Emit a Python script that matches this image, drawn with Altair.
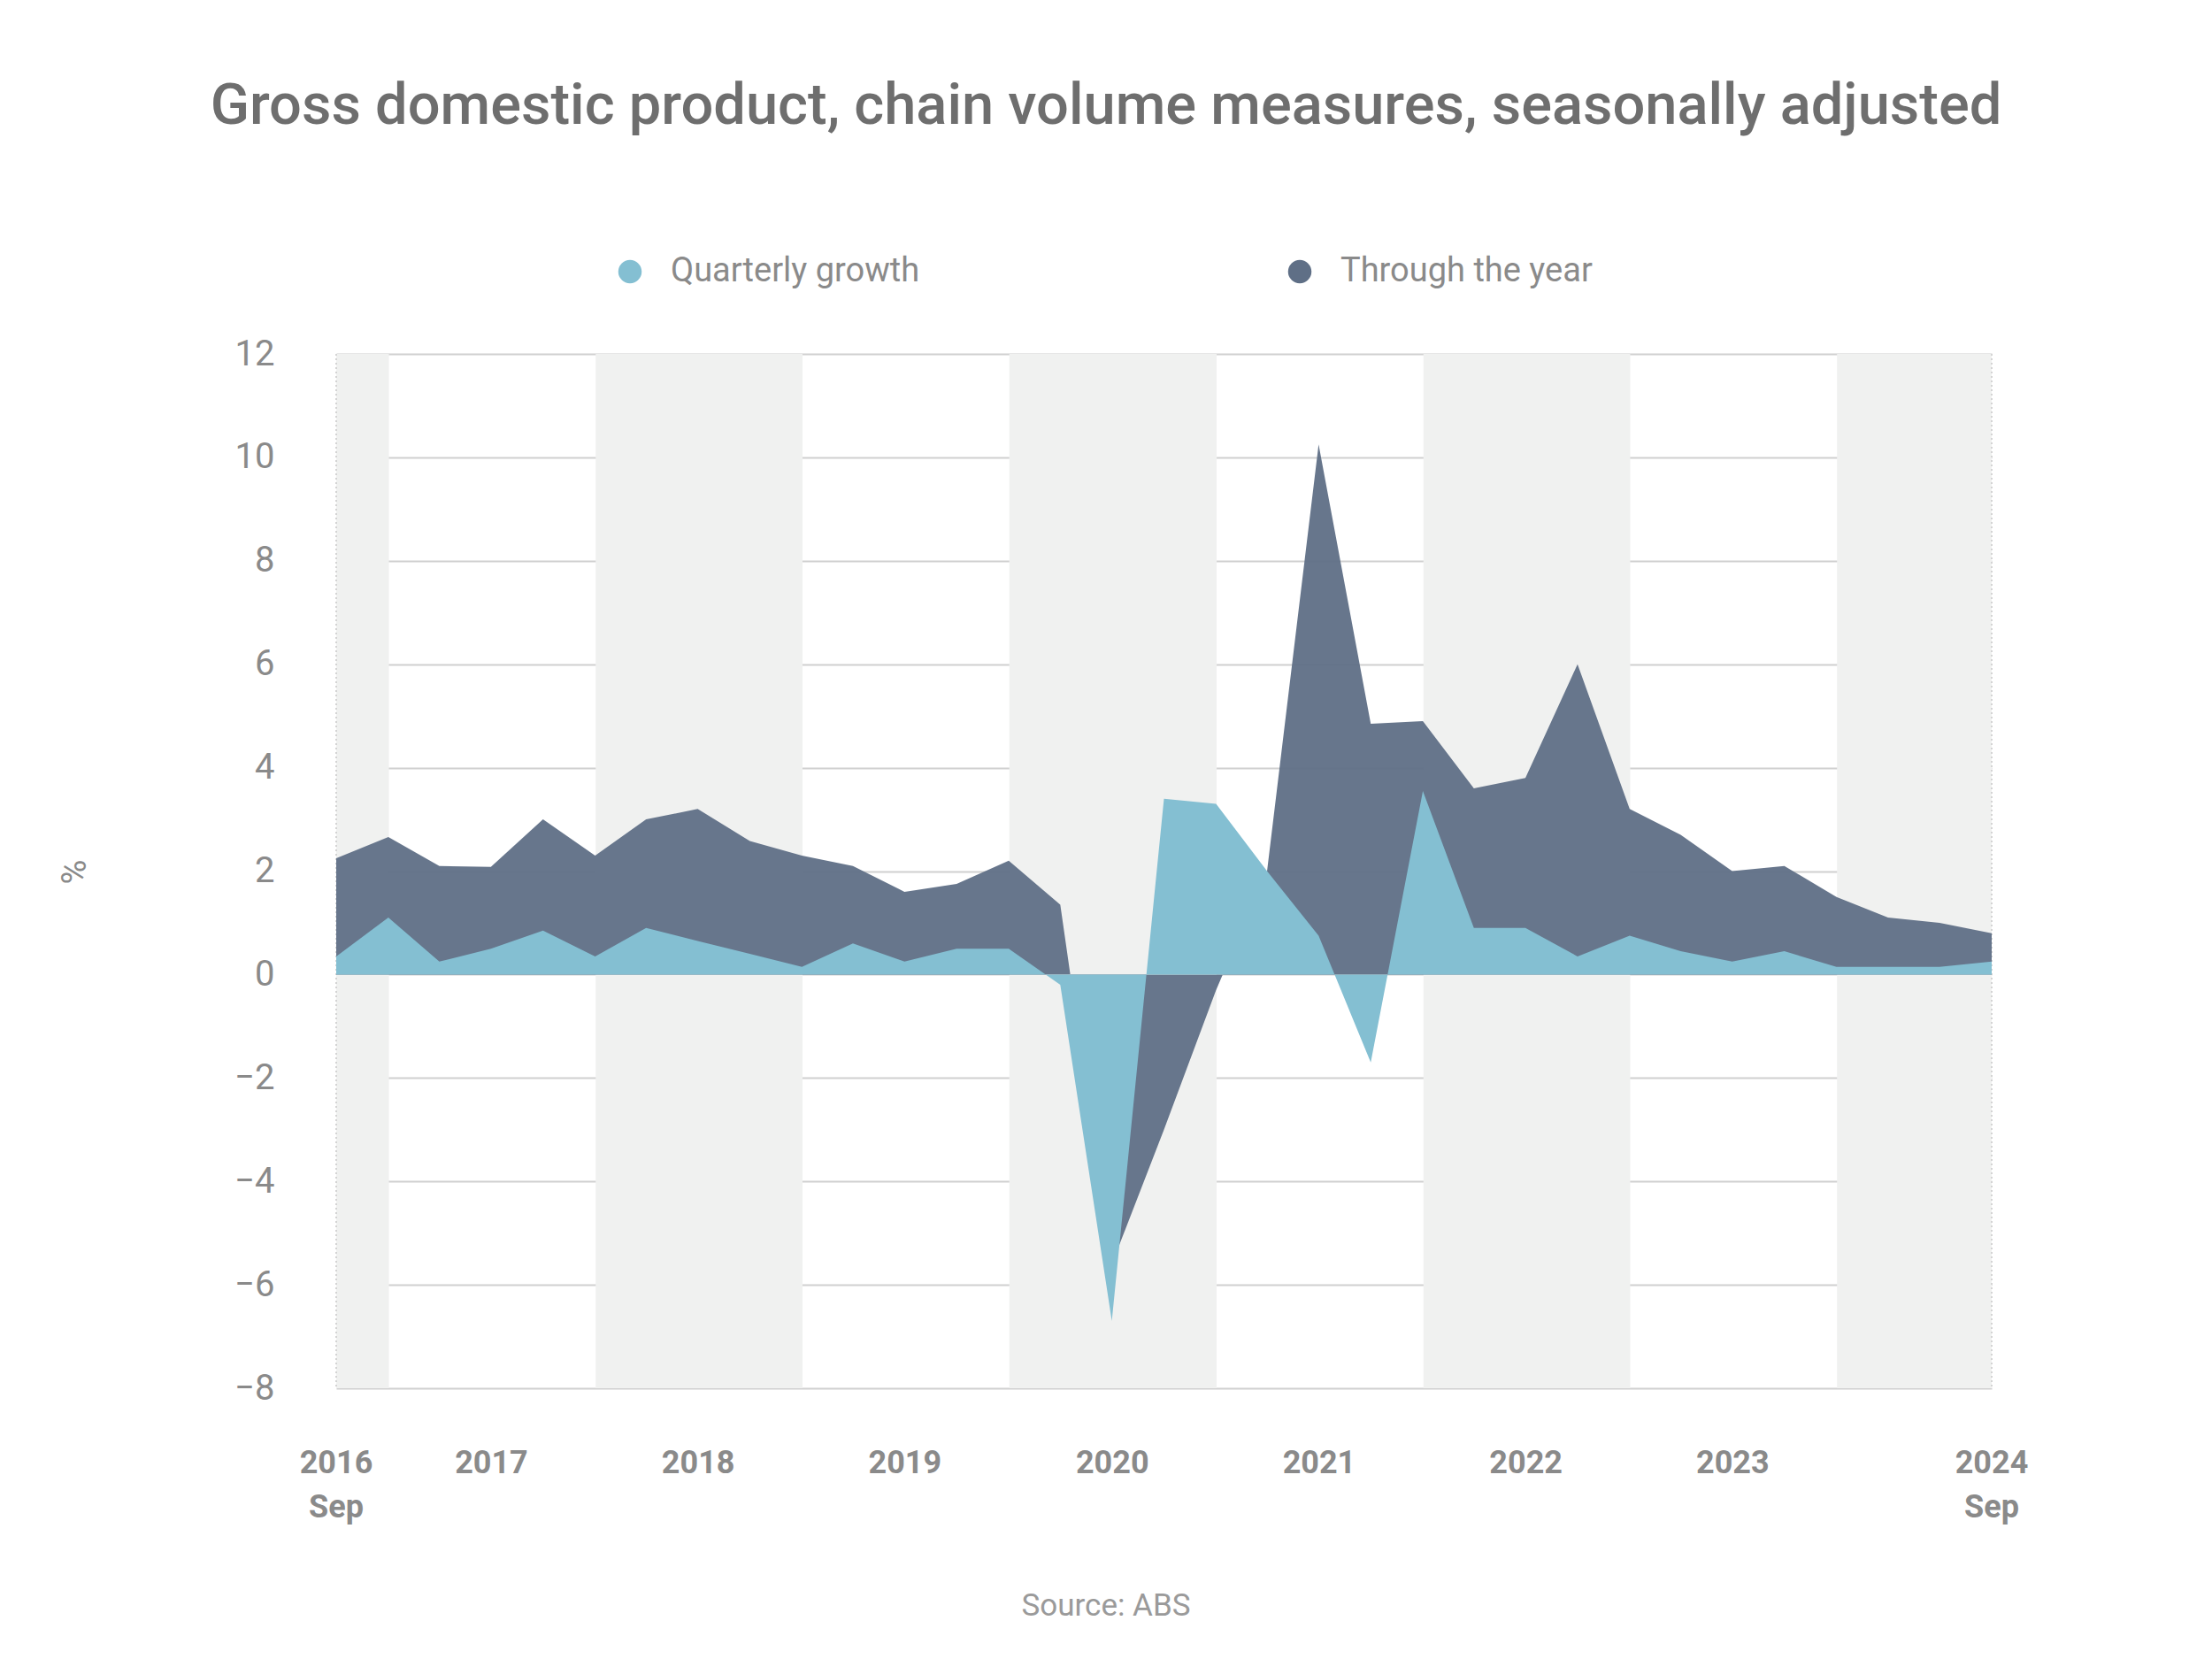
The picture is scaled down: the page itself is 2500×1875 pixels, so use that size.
import altair as alt
import pandas as pd

# Trimestres Sep 2016 .. Sep 2024 (fin de trimestre)
QUARTERS = pd.date_range("2016-09-30", "2024-09-30", freq="QE")

QUARTERLY = [0.35, 1.1, 0.25, 0.5, 0.85, 0.35, 0.9, 0.65, 0.4, 0.15, 0.6, 0.25,
             0.5, 0.5, -0.2, -6.7, 3.4, 3.3, 2.0, 0.75, -1.7, 3.55, 0.9, 0.9,
             0.35, 0.75, 0.45, 0.25, 0.45, 0.15, 0.15, 0.15, 0.25]
THROUGH_YEAR = [2.25, 2.66, 2.1, 2.08, 3.0, 2.3, 3.0, 3.2, 2.58, 2.3, 2.1, 1.6,
                1.75, 2.2, 1.35, -5.6, -3.0, -0.3, 2.0, 10.25, 4.85, 4.9, 3.6, 3.8,
                6.0, 3.2, 2.7, 2.0, 2.1, 1.5, 1.1, 1.0, 0.8]

BAND_START = ["2016-09-30", "2018-01-01", "2020-01-01", "2022-01-01", "2024-01-01"]
BAND_END = ["2017-01-01", "2019-01-01", "2021-01-01", "2023-01-01", "2024-09-30"]

YEAR_LABEL_DATES = ["2016-09-30", "2017-07-01", "2018-07-01", "2019-07-01", "2020-07-01",
                    "2021-07-01", "2022-07-01", "2023-07-01", "2024-09-30"]
YEAR_LABELS = ["2016", "2017", "2018", "2019", "2020", "2021", "2022", "2023", "2024"]
SEP_DATES = ["2016-09-30", "2024-09-30"]

SERIES = ["Quarterly growth", "Through the year"]
COLORS = ["#84bfd2", "#5f6f86"]

W, H = 1871, 1169
FONT = "Roboto"
GREY = "#8a8a8a"

df = pd.DataFrame({"date": QUARTERS, "q": QUARTERLY, "ty": THROUGH_YEAR})
df["s_q"] = SERIES[0]
df["s_ty"] = SERIES[1]

xscale = alt.Scale(domain=[pd.Timestamp("2016-09-30").isoformat(),
                           pd.Timestamp("2024-09-30").isoformat()])
x = alt.X("date:T", axis=None, scale=xscale)
color_scale = alt.Scale(domain=SERIES, range=COLORS)

bands = alt.Chart(pd.DataFrame({"a": pd.to_datetime(BAND_START), "b": pd.to_datetime(BAND_END)})).mark_rect(
    color="#f0f1f0").encode(x=alt.X("a:T", axis=None, scale=xscale), x2="b:T")

edges = alt.Chart(pd.DataFrame({"date": pd.to_datetime(SEP_DATES)})).mark_rule(
    color="#d4d4d4", strokeDash=[2, 3], strokeWidth=2).encode(x=x)

y = alt.Y("ty:Q", title="%", scale=alt.Scale(domain=[-8, 12]),
          axis=alt.Axis(values=list(range(-8, 13, 2)), grid=True, gridColor="#d0d0d0",
                        gridWidth=2, domain=False, ticks=False, labelFontSize=40,
                        labelExpr="format(datum.value, 'd')",
                        labelColor=GREY, labelFont=FONT, labelPadding=70,
                        titleFont=FONT, titleFontSize=38, titleColor=GREY,
                        titleFontWeight="normal", titleX=-276, titleY=585))

dark = alt.Chart(df).mark_area(opacity=0.95).encode(
    x=x, y=y,
    color=alt.Color("s_ty:N", scale=color_scale, title=None,
                    legend=alt.Legend(orient="none", legendX=313, legendY=-112,
                                      direction="horizontal", symbolType="circle",
                                      symbolSize=700, symbolOpacity=1, labelFontSize=38,
                                      labelFont=FONT, labelColor=GREY, labelOffset=27,
                                      labelLimit=600, columnPadding=410)))
light = alt.Chart(df).mark_area().encode(
    x=x, y=alt.Y("q:Q"), color=alt.Color("s_q:N", scale=color_scale))

lab = pd.DataFrame({"date": pd.to_datetime(YEAR_LABEL_DATES), "t": YEAR_LABELS})
years = alt.Chart(lab).mark_text(font=FONT, fontSize=36, fontWeight="bold", color=GREY).encode(
    x=x, y=alt.value(H + 85), text="t:N")
seps = alt.Chart(pd.DataFrame({"date": pd.to_datetime(SEP_DATES), "t": ["Sep", "Sep"]})).mark_text(
    font=FONT, fontSize=36, fontWeight="bold", color=GREY).encode(x=x, y=alt.value(H + 135), text="t:N")

title = alt.Chart(pd.DataFrame({"t": ["Gross domestic product, chain volume measures, seasonally adjusted"]})).mark_text(
    font=FONT, fontSize=65, fontWeight=500, color="#6e6e6e").encode(
    x=alt.value(870), y=alt.value(-280), text="t:N")
source = alt.Chart(pd.DataFrame({"t": ["Source: ABS"]})).mark_text(
    font=FONT, fontSize=35, color="#9a9a9a").encode(x=alt.value(870), y=alt.value(1415), text="t:N")

chart = (bands + edges + dark + light + years + seps + title + source).properties(
    width=W, height=H, autosize=alt.AutoSizeParams(type="none"),
    padding={"left": 372, "top": 392, "right": 240, "bottom": 290},
    background="white",
).configure_view(stroke=None)

chart.save("out.html", embed_options={"renderer": "svg", "actions": False})
